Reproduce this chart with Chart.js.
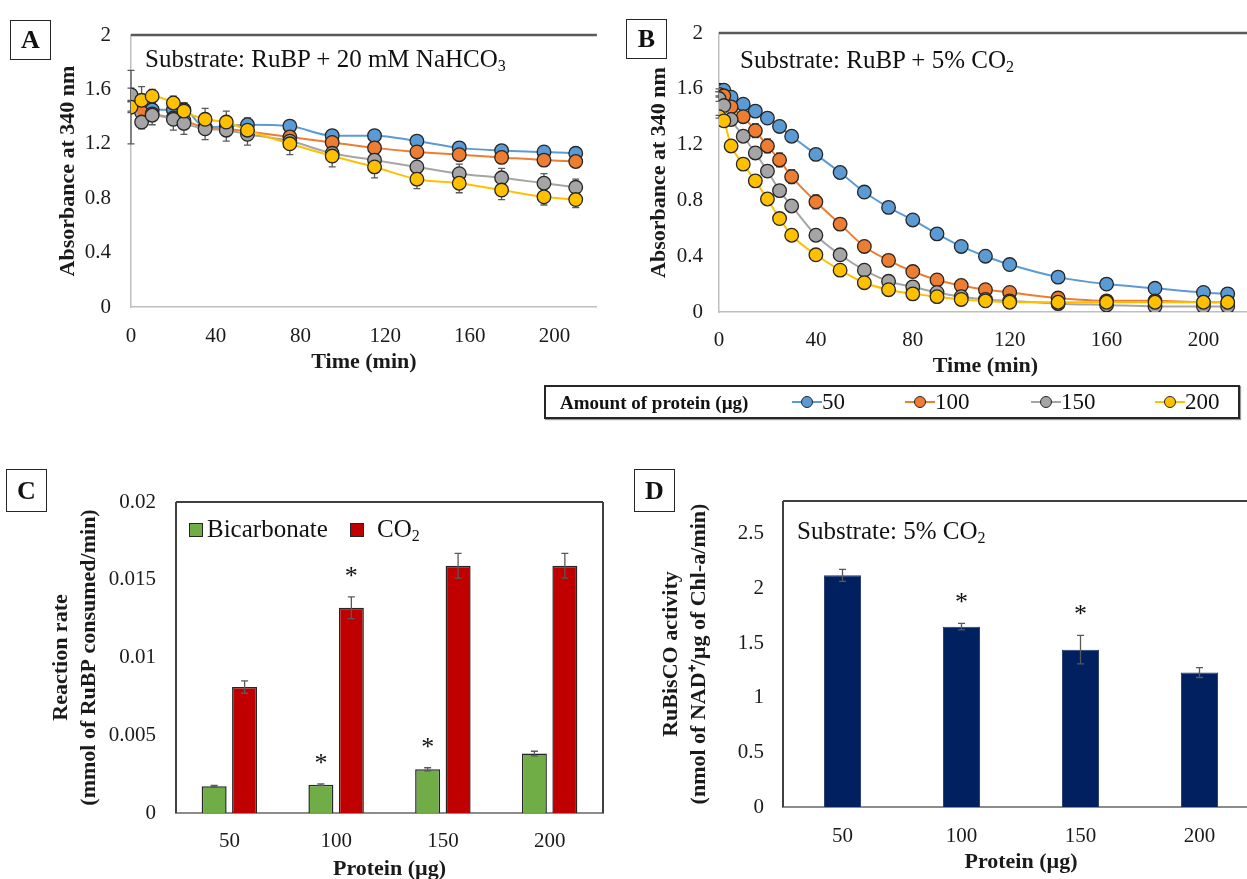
<!DOCTYPE html>
<html>
<head>
<meta charset="utf-8">
<script src="https://cdn.jsdelivr.net/npm/chart.js@4.4.1/dist/chart.umd.min.js"></script>
<style>
    body { margin: 0; background: #fff; width: 1247px; height: 879px; overflow: hidden; position: relative;
           font-family: "Liberation Serif", "Times New Roman", serif; color: #111; }
    canvas, .abs { position: absolute; }
    .lab { border: 1.5px solid #262626; box-sizing: border-box; font-weight: bold; font-size: 26px;
           text-align: center; line-height: 38px; width: 41px; height: 40px; }
    .ttl { font-size: 25px; white-space: nowrap; line-height: 28px; }
    .ttl sub { font-size: 16px; vertical-align: -4px; }
    #legend { left: 544px; top: 385px; width: 696px; height: 34px; border: 2px solid #262626; box-sizing: border-box;
              box-shadow: 1px 1px 1px #999; }
    #legend .head { left: 14px; top: 5px; font-weight: bold; font-size: 19px; }
    .item { top: 2px; font-size: 23px; white-space: nowrap; }
    .mk { display: inline-block; position: relative; width: 30px; height: 22px; vertical-align: -4px; }
    .mk i { position: absolute; left: 0; right: 0; top: 10px; height: 2px; }
    .mk b { position: absolute; left: 9px; top: 5px; width: 10px; height: 10px; border-radius: 50%; border: 1.2px solid #262626; }
    .sq { width: 12px; height: 12px; border: 1.5px solid #262626; }
</style>
</head>
<body>
<canvas id="chartA" width="605" height="385" style="left:0;top:0"></canvas>
<canvas id="chartB" width="650" height="385" style="left:610px;top:0"></canvas>
<canvas id="chartC" width="615" height="450" style="left:0;top:440px"></canvas>
<canvas id="chartD" width="630" height="450" style="left:630px;top:440px"></canvas>

<div class="abs lab" style="left:10px;top:20px">A</div>
<div class="abs lab" style="left:626px;top:19px">B</div>
<div class="abs lab" style="left:6px;top:469px;height:43px;line-height:42px">C</div>
<div class="abs lab" style="left:634px;top:469px;height:43px;line-height:42px">D</div>

<div class="abs ttl" style="left:145px;top:45px">Substrate: RuBP + 20 mM NaHCO<sub>3</sub></div>
<div class="abs ttl" style="left:740px;top:46px">Substrate: RuBP + 5% CO<sub>2</sub></div>
<div class="abs ttl" style="left:797px;top:517px">Substrate: 5% CO<sub>2</sub></div>

<div class="abs sq" style="left:189px;top:523px;background:#70ad47"></div>
<div class="abs ttl" style="left:207px;top:515px">Bicarbonate</div>
<div class="abs sq" style="left:350px;top:523px;background:#c00000"></div>
<div class="abs ttl" style="left:377px;top:515px">CO<sub>2</sub></div>

<div id="legend" class="abs">
    <div class="abs head">Amount of protein (µg)</div>
</div>

<script>
// ---- data ----
const proteinLabels = ['50', '100', '150', '200'];
const seriesColors = ['#5b9bd5', '#ed7d31', '#a5a5a5', '#ffc000'];

// panel A: RuBP + 20 mM NaHCO3
const timeA = [0, 5, 10, 20, 25, 35, 45, 55, 75, 95, 115, 135, 155, 175, 195, 210];
const absA50  = [1.47, 1.46, 1.45, 1.45, 1.45, 1.32, 1.33, 1.34, 1.33, 1.26, 1.26, 1.22, 1.17, 1.15, 1.14, 1.13];
const absA100 = [1.48, 1.43, 1.42, 1.39, 1.37, 1.32, 1.31, 1.29, 1.25, 1.21, 1.17, 1.14, 1.12, 1.10, 1.08, 1.07];
const absA150 = [1.56, 1.36, 1.41, 1.38, 1.35, 1.31, 1.30, 1.27, 1.22, 1.13, 1.08, 1.03, 0.98, 0.95, 0.91, 0.88];
const absA200 = [1.47, 1.52, 1.55, 1.50, 1.44, 1.38, 1.36, 1.30, 1.20, 1.11, 1.03, 0.94, 0.91, 0.86, 0.81, 0.79];
const errA50  = [0.27, 0.05, 0.05, 0.05, 0.05, 0.05, 0.04, 0.05, 0.03, 0.03, 0.03, 0.03, 0.03, 0.03, 0.03, 0.03];
const errA100 = [0.04, 0.04, 0.04, 0.04, 0.04, 0.04, 0.04, 0.04, 0.04, 0.04, 0.04, 0.04, 0.04, 0.04, 0.04, 0.04];
const errA150 = [0.05, 0.05, 0.07, 0.08, 0.08, 0.08, 0.08, 0.08, 0.05, 0.06, 0.07, 0.07, 0.07, 0.07, 0.07, 0.06];
const errA200 = [0.04, 0.10, 0.05, 0.05, 0.06, 0.08, 0.08, 0.06, 0.08, 0.08, 0.08, 0.07, 0.07, 0.07, 0.06, 0.06];

// panel B: RuBP + 5% CO2
const timeB = [0, 2, 5, 10, 15, 20, 25, 30, 40, 50, 60, 70, 80, 90, 100, 110, 120, 140, 160, 180, 200, 210];
const absB50  = [1.59, 1.59, 1.54, 1.49, 1.44, 1.39, 1.33, 1.26, 1.13, 1.00, 0.86, 0.75, 0.66, 0.56, 0.47, 0.40, 0.34, 0.25, 0.20, 0.17, 0.14, 0.13];
const absB100 = [1.56, 1.55, 1.47, 1.40, 1.30, 1.19, 1.09, 0.97, 0.79, 0.63, 0.47, 0.37, 0.29, 0.23, 0.19, 0.16, 0.14, 0.10, 0.08, 0.08, 0.07, 0.07];
const absB150 = [1.53, 1.48, 1.38, 1.26, 1.14, 1.01, 0.87, 0.76, 0.55, 0.41, 0.30, 0.22, 0.18, 0.14, 0.11, 0.09, 0.08, 0.06, 0.05, 0.04, 0.04, 0.04];
const absB200 = [1.40, 1.37, 1.19, 1.06, 0.94, 0.81, 0.67, 0.55, 0.41, 0.30, 0.21, 0.16, 0.13, 0.11, 0.09, 0.08, 0.07, 0.07, 0.07, 0.07, 0.07, 0.07];
const errB50  = [0.01, 0.01, 0.01, 0.01, 0.01, 0.01, 0.01, 0.01, 0.01, 0.01, 0.01, 0.01, 0.01, 0.01, 0.01, 0.01, 0.01, 0.01, 0.01, 0.01, 0.01, 0.01];
const errB100 = [0.02, 0.02, 0.03, 0.03, 0.05, 0.05, 0.05, 0.05, 0.05, 0.04, 0.02, 0.02, 0.02, 0.02, 0.01, 0.01, 0.01, 0.01, 0.01, 0.01, 0.01, 0.01];
const errB150 = [0.02, 0.02, 0.02, 0.03, 0.04, 0.03, 0.02, 0.02, 0.02, 0.02, 0.01, 0.01, 0.01, 0.01, 0.01, 0.01, 0.01, 0.01, 0.01, 0.01, 0.01, 0.01];
const errB200 = [0.01, 0.01, 0.01, 0.01, 0.01, 0.01, 0.01, 0.03, 0.02, 0.01, 0.01, 0.01, 0.01, 0.01, 0.01, 0.01, 0.01, 0.01, 0.01, 0.01, 0.01, 0.01];

// panel C: reaction rate
const rateBicarb = [0.00172, 0.00182, 0.00281, 0.00382];
const rateCO2    = [0.0081, 0.0132, 0.0159, 0.0159];
const errBicarb  = [0.00005, 0.00005, 0.0001, 0.00015];
const errCO2     = [0.0004, 0.0007, 0.0008, 0.0008];
const sigBicarb  = [false, true, true, false];
const sigCO2     = [false, true, false, false];

// panel D: RuBisCO activity
const activity    = [2.12, 1.65, 1.44, 1.23];
const errActivity = [0.055, 0.03, 0.13, 0.045];
const sigActivity = [false, true, true, false];

const timeTicks = [0, 40, 80, 120, 160, 200];

const FONT = '"Liberation Serif", "Times New Roman", serif';
const num = v => String(+v.toFixed(4));

// error bars + significance stars, read from dataset.errors / dataset.stars
const errorBars = {
    id: 'errorBars',
    beforeDatasetsDraw(chart, args, opts) { if (opts.under) drawErrors(chart); },
    afterDatasetsDraw(chart, args, opts) { if (!opts.under) drawErrors(chart); }
};
function drawErrors(chart) {
    const ctx = chart.ctx;
    ctx.save();
    chart.data.datasets.forEach((ds, i) => {
        if (!ds.errors) return;
        const meta = chart.getDatasetMeta(i);
        const ys = chart.scales[meta.yAxisID];
        meta.data.forEach((el, j) => {
            const raw = ds.data[j];
            const v = typeof raw === 'object' ? raw.y : raw;
            const e = ds.errors[j];
            const y1 = ys.getPixelForValue(v + e), y2 = ys.getPixelForValue(v - e);
            ctx.strokeStyle = '#595959';
            ctx.lineWidth = 1.3;
            ctx.beginPath();
            ctx.moveTo(el.x, y1); ctx.lineTo(el.x, y2);
            ctx.moveTo(el.x - 3.5, y1); ctx.lineTo(el.x + 3.5, y1);
            ctx.moveTo(el.x - 3.5, y2); ctx.lineTo(el.x + 3.5, y2);
            ctx.stroke();
            if (ds.stars && ds.stars[j]) {
                ctx.fillStyle = '#111';
                ctx.font = '26px ' + FONT;
                ctx.textAlign = 'center';
                ctx.textBaseline = 'alphabetic';
                ctx.fillText('*', el.x, y1 - 13);
            }
        });
    });
    ctx.restore();
}

// plot-area border lines
const frame = {
    id: 'frame',
    afterDraw(chart, args, opts) {
        const {left, right, top, bottom} = chart.chartArea;
        const ctx = chart.ctx;
        ctx.save();
        ctx.lineWidth = opts.width || 2;
        const sides = {top: [left, top, right, top], right: [right, top, right, bottom],
                       left: [left, top, left, bottom], bottom: [left, bottom, right, bottom]};
        Object.keys(opts.sides || {}).forEach(k => {
            const s = sides[k];
            ctx.strokeStyle = opts.sides[k];
            ctx.beginPath(); ctx.moveTo(s[0], s[1]); ctx.lineTo(s[2], s[3]); ctx.stroke();
        });
        ctx.restore();
    }
};

Chart.register(errorBars, frame);
Chart.defaults.font.family = FONT;
Chart.defaults.color = '#1a1a1a';
Chart.defaults.animation = false;

const noGrid = {display: false, drawTicks: false};

function lineChart(id, times, values, errors, L) {
    const datasets = values.map((vals, k) => ({
        label: proteinLabels[k],
        data: times.map((t, i) => ({x: t, y: vals[i]})),
        errors: errors[k],
        borderColor: seriesColors[k],
        backgroundColor: seriesColors[k],
        pointBackgroundColor: seriesColors[k],
        pointBorderColor: '#262626',
        pointBorderWidth: 1.3,
        pointRadius: 6.8,
        borderWidth: 2,
        cubicInterpolationMode: 'monotone',
        order: 4 - k
    }));
    return new Chart(document.getElementById(id), {
        type: 'line',
        data: {datasets},
        options: {
            responsive: false,
            layout: {padding: L.pad},
            plugins: {
                legend: {display: false},
                tooltip: {enabled: false},
                errorBars: {under: true},
                frame: {sides: {top: '#595959'}, width: 2.5}
            },
            scales: {
                x: {
                    type: 'linear', min: 0, max: 220,
                    grid: noGrid,
                    border: {display: true, color: '#bfbfbf', width: 1.5},
                    afterBuildTicks: s => { s.ticks = timeTicks.map(v => ({value: v})); },
                    afterFit: s => { s.height = 70; },
                    ticks: {font: {size: 21}, padding: L.xTickPad, maxRotation: 0},
                    title: {display: true, text: 'Time (min)', font: {size: 22, weight: 'bold', lineHeight: 1.2},
                            padding: {top: 0, bottom: L.xTitlePad}}
                },
                y: {
                    min: 0, max: 2,
                    grid: noGrid,
                    border: {display: true, color: '#bfbfbf', width: 1.5},
                    afterFit: s => { s.width = L.yWidth; },
                    ticks: {stepSize: 0.4, font: {size: 21}, padding: L.yTickPad, callback: num},
                    title: {display: true, text: 'Absorbance at 340 nm', font: {size: 22, weight: 'bold', lineHeight: 1.2},
                            padding: {top: L.yTitlePad, bottom: 0}}
                }
            }
        }
    });
}

lineChart('chartA', timeA, [absA50, absA100, absA150, absA200], [errA50, errA100, errA150, errA200],
    {pad: {left: 0, top: 35, right: 6.5, bottom: 8}, xTickPad: 17, xTitlePad: 1, yWidth: 131, yTickPad: 20, yTitlePad: 55});
lineChart('chartB', timeB, [absB50, absB100, absB150, absB200], [errB50, errB100, errB150, errB200],
    {pad: {left: 0, top: 33, right: 4, bottom: 3}, xTickPad: 16, xTitlePad: 2, yWidth: 109, yTickPad: 16, yTitlePad: 36});

// panel C
new Chart(document.getElementById('chartC'), {
    type: 'bar',
    data: {
        labels: proteinLabels,
        datasets: [
            {label: 'Bicarbonate', data: rateBicarb, errors: errBicarb, stars: sigBicarb,
             backgroundColor: '#70ad47', borderColor: '#262626', borderWidth: 1.5},
            {label: 'CO2', data: rateCO2, errors: errCO2, stars: sigCO2,
             backgroundColor: '#c00000', borderColor: '#262626', borderWidth: 1.5}
        ]
    },
    options: {
        responsive: false,
        layout: {padding: {left: 0, top: 62, right: 12, bottom: 0}},
        datasets: {bar: {categoryPercentage: 0.571, barPercentage: 0.82}},
        plugins: {
            legend: {display: false},
            tooltip: {enabled: false},
            frame: {sides: {top: '#404040', right: '#404040', left: '#404040'}, width: 2}
        },
        scales: {
            x: {
                grid: noGrid,
                border: {display: true, color: '#8c8c8c', width: 2},
                afterFit: s => { s.height = 77; },
                ticks: {font: {size: 21}, padding: 16},
                title: {display: true, text: 'Protein (µg)', font: {size: 22, weight: 'bold', lineHeight: 1.2},
                        padding: {top: 0, bottom: 7}}
            },
            y: {
                min: 0, max: 0.02,
                grid: noGrid,
                border: {display: false},
                afterFit: s => { s.width = 176; },
                ticks: {stepSize: 0.005, font: {size: 21}, padding: 20, callback: num},
                title: {display: true, text: ['Reaction rate', '(mmol of RuBP consumed/min)'],
                        font: {size: 22, weight: 'bold', lineHeight: 1.27}, padding: {top: 47, bottom: 0}}
            }
        }
    }
});

// panel D
new Chart(document.getElementById('chartD'), {
    type: 'bar',
    data: {
        labels: proteinLabels,
        datasets: [{label: 'RuBisCO activity', data: activity, errors: errActivity, stars: sigActivity,
                     backgroundColor: '#002060', borderColor: '#24386b', borderWidth: 1}]
    },
    options: {
        responsive: false,
        layout: {padding: {left: 0, top: 61, right: 1, bottom: 0}},
        datasets: {bar: {categoryPercentage: 0.8, barPercentage: 0.39}},
        plugins: {
            legend: {display: false},
            tooltip: {enabled: false},
            frame: {sides: {top: '#404040', left: '#404040'}, width: 2}
        },
        scales: {
            x: {
                grid: noGrid,
                border: {display: true, color: '#8c8c8c', width: 2},
                afterFit: s => { s.height = 83; },
                ticks: {font: {size: 21}, padding: 17},
                title: {display: true, text: 'Protein (µg)', font: {size: 22, weight: 'bold', lineHeight: 1.2},
                        padding: {top: 0, bottom: 14}}
            },
            y: {
                min: 0, max: 2.8,
                grid: noGrid,
                border: {display: false},
                afterBuildTicks: s => { s.ticks = s.ticks.filter(t => t.value <= 2.5 + 1e-9); },
                afterFit: s => { s.width = 153; },
                ticks: {stepSize: 0.5, font: {size: 21}, padding: 19, callback: num},
                title: {display: true, text: ['RuBisCO activity', '(nmol of NAD⁺/µg of Chl-a/min)'],
                        font: {size: 22, weight: 'bold', lineHeight: 1.27}, padding: {top: 27, bottom: 0}}
            }
        }
    }
});

// shared legend for panels A and B
const legend = document.getElementById('legend');
const itemLeft = [246, 359, 485, 609];
proteinLabels.forEach((lab, k) => {
    const d = document.createElement('div');
    d.className = 'abs item';
    d.style.left = itemLeft[k] + 'px';
    d.innerHTML = '<span class="mk"><i style="background:' + seriesColors[k] + '"></i>' +
                  '<b style="background:' + seriesColors[k] + '"></b></span>' + lab;
    legend.appendChild(d);
});
</script>
</body>
</html>
